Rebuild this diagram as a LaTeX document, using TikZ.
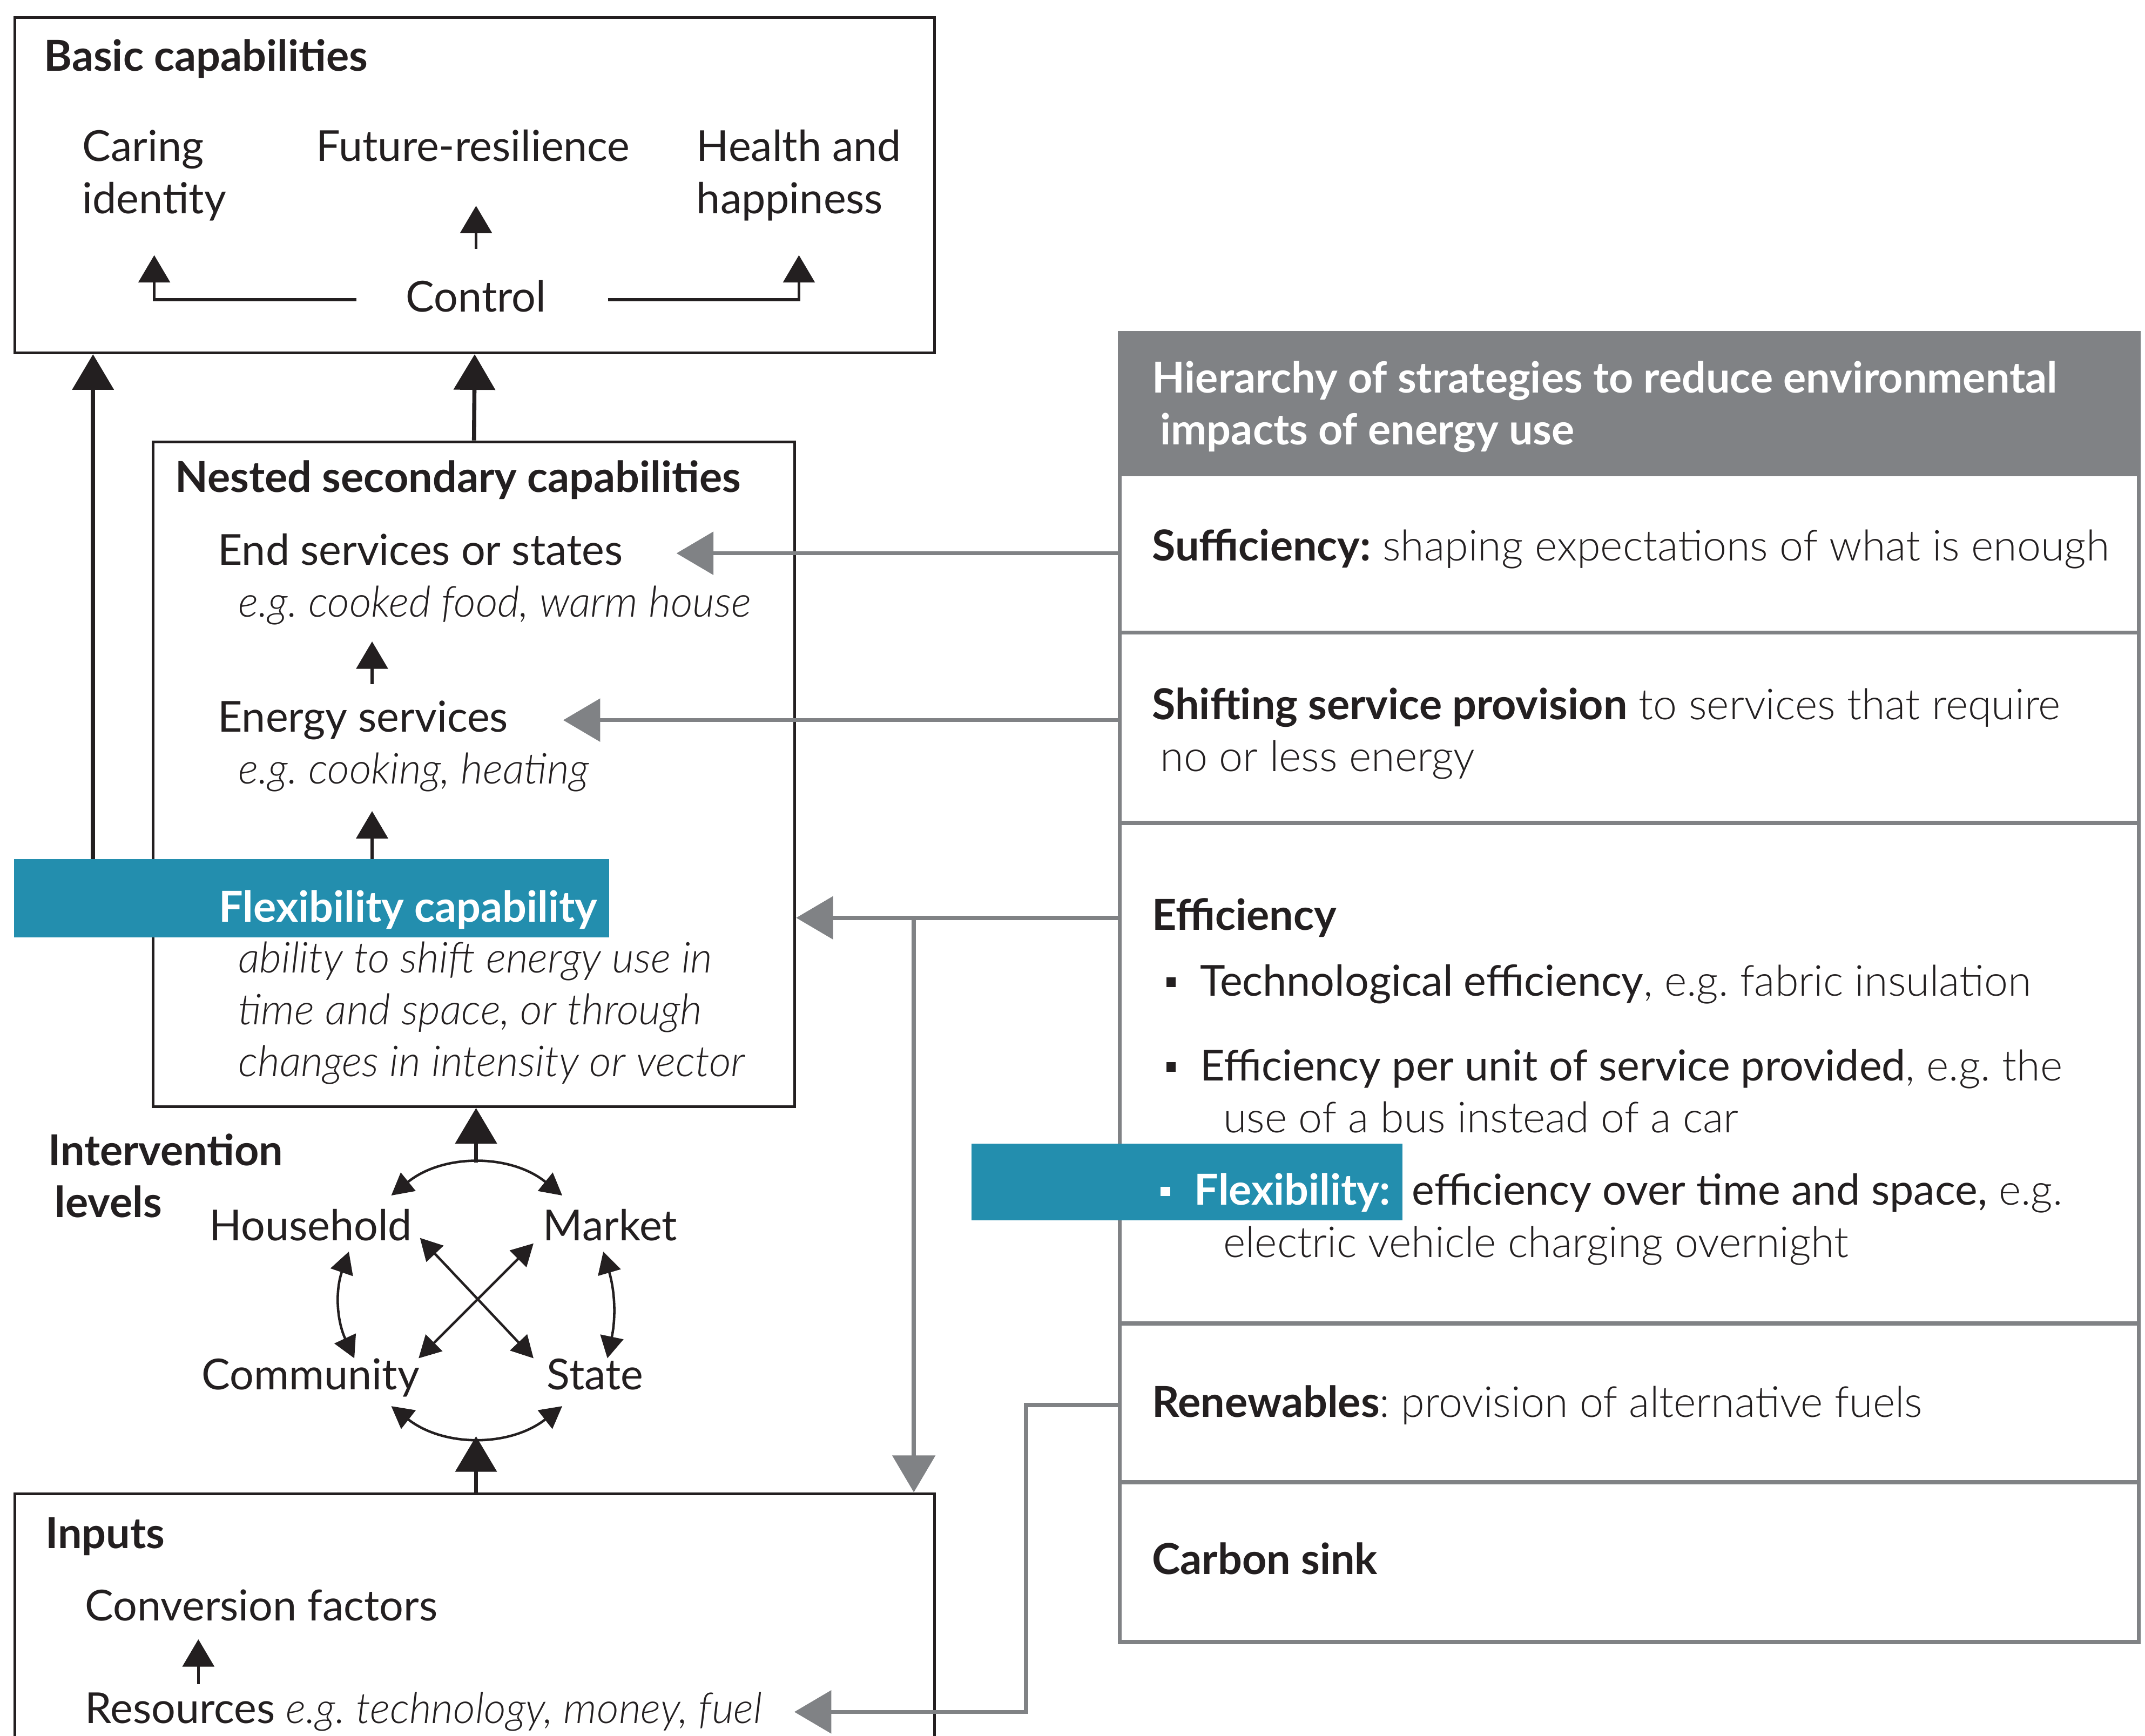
\documentclass[tikz,border=0pt]{standalone}
\usepackage{fontspec}
\setmainfont{Lato}
\newfontfamily\lightfont{Lato Light}
\frenchspacing
\usetikzlibrary{arrows.meta,calc,positioning}
\definecolor{ink}{RGB}{35,31,32}
\definecolor{flexblue}{RGB}{35,142,174}
\definecolor{panelgrey}{RGB}{128,130,133}

\tikzset{
  txt/.style={anchor=base west, inner sep=0pt, text=ink, font=\fontsize{31.2}{38}\selectfont},
  head/.style={txt, font=\fontsize{31.2}{38}\selectfont\bfseries},
  eg/.style={txt, font=\fontsize{31.2}{38}\selectfont\lightfont\itshape},
  lvl/.style={txt, anchor=base},
  box/.style={draw=ink, line width=2pt, anchor=north west, inner sep=0pt},
  row/.style={draw=panelgrey, line width=3pt, anchor=north west, inner sep=0pt, minimum width=745pt},
  flexfill/.style={fill=flexblue, anchor=north west, inner sep=0pt},
  bullet/.style={fill=ink, minimum size=7pt, inner sep=0pt},
  bigarr/.style={draw=ink, line width=3pt, -{Triangle[length=26pt,width=30pt]}},
  smallarr/.style={draw=ink, line width=2.2pt, -{Triangle[length=20pt,width=23pt]}},
  cycarr/.style={draw=ink, line width=1.8pt, {Triangle[length=16pt,width=17pt]}-{Triangle[length=16pt,width=17pt]}},
  greyarr/.style={draw=panelgrey, line width=3pt, -{Triangle[length=27pt,width=31pt]}}
}

\begin{document}
\begin{tikzpicture}[x=1pt,y=-1pt]
\fill[white] (0,0) rectangle (1568,1269);
\clip (0,0) rectangle (1568,1269);

% boxes on the left
\node[box, minimum width=672pt, minimum height=245pt] (basic) at (10,12) {};
\node[box, minimum width=469pt, minimum height=486pt] (nested) at (111,322) {};
\node[box, minimum width=672pt, minimum height=300pt] (inputs) at (10,1091) {};

% basic capabilities
\node[head] (tbasic) at (32,52) {Basic capabilities};
\node[txt, align=left] (caring) at (60,156) {Caring\\identity};
\node[txt] (future) at (231,118) {Future-resilience};
\node[txt, align=left] (health) at (509,156) {Health and\\happiness};
\node[lvl] (ctrl) at (348,228) {Control};
\draw[smallarr, shorten <=23pt, shorten >=32pt] (ctrl.north) -- (ctrl.north |- future.south);
\draw[smallarr, shorten <=36pt, shorten >=25pt] ($(ctrl.base west)+(0,-9)$) -| (caring.south);
\draw[smallarr, shorten <=45pt, shorten >=25pt] ($(ctrl.base east)+(0,-9)$) -| (health.south);

% nested secondary capabilities
\node[head] (tnested) at (128,360) {Nested secondary capabilities};
\node[txt] (endserv) at (159,413) {End services or states};
\node[eg] (endeg) at (174,451) {e.g. cooked food, warm house};
\node[txt] (energy) at (159,535) {Energy services};
\node[eg] (energyeg) at (174,573) {e.g. cooking, heating};
\node[flexfill, minimum width=435pt, minimum height=57pt] (flexbar) at (10,628) {};
\node[head, text=white] (flext) at (160,674) {Flexibility capability};
\node[eg, align=left] (flexdesc) at (174,787) {ability to shift energy use in\\time and space, or through\\changes in intensity or vector};
\coordinate (ax) at (272,0);
\draw[smallarr, shorten <=12pt, shorten >=12pt] (energy.north -| ax) -- (endeg.south -| ax);
\draw[smallarr, shorten >=14pt] (flexbar.north -| ax) -- (energyeg.south -| ax);

\draw[bigarr] (nested.north) -- (basic.south);
\coordinate (lx) at (68,0);
\draw[bigarr] (flexbar.north -| lx) -- (basic.south -| lx);

% intervention levels
\node[head, align=left] (tlevels) at (35,890) {Intervention\\\hspace*{5pt}levels};
\node[lvl] (hh) at (227,907) {Household};
\node[lvl] (mkt) at (446,907) {Market};
\node[lvl] (comm) at (227,1016) {Community};
\node[lvl] (state) at (435,1016) {State};
\draw[cycarr] ($(hh.base)+(80,-2)$) -- ($(state.base)+(-45,-23)$);
\draw[cycarr] ($(mkt.base)+(-56,2)$) -- ($(comm.base)+(79,-23)$);
\draw[cycarr] ($(hh.base)+(28,8)$) to[bend right=22] ($(comm.base)+(32,-23)$);
\draw[cycarr] ($(mkt.base)+(-5,8)$) to[bend left=14] ($(state.base)+(9,-23)$);
\draw[cycarr] ($(hh.base)+(59,-33)$) to[bend left=39] ($(mkt.base)+(-35,-33)$);
\draw[cycarr] ($(comm.base)+(59,12)$) to[bend right=38] ($(state.base)+(-24,12)$);
\coordinate (arcT) at (348,850);
\coordinate (arcB) at (348,1050);
\draw[bigarr] (arcT) -- (arcT |- nested.south);
\draw[bigarr] (arcB |- inputs.north) -- (arcB);

% inputs
\node[head] (tinputs) at (33,1132) {Inputs};
\node[txt] (conv) at (62,1185) {Conversion factors};
\node[txt] (res) at (62,1260) {Resources{\lightfont\itshape\ e.g. technology, money, fuel}};
\coordinate (ix) at (145,0);
\draw[smallarr, shorten <=6pt, shorten >=13pt] (res.north -| ix) -- (conv.south -| ix);

% hierarchy of strategies
\node[row, fill=panelgrey, minimum height=103pt] (rhead) at (817,242) {};
\node[row, minimum height=116pt] (rsuff) at (817,345) {};
\node[row, minimum height=139pt] (rshift) at (817,461) {};
\node[row, minimum height=366pt] (reff) at (817,600) {};
\node[row, minimum height=116pt] (rren) at (817,966) {};
\node[row, minimum height=117pt] (rsink) at (817,1082) {};

\node[head, text=white] (thead) at (842,287) {Hierarchy of strategies to reduce environmental};
\node[head, text=white] (thead2) at (848,325) {impacts of energy use};
\node[txt] (suff) at (842,410) {\textbf{Sufficiency:}{\lightfont\ shaping expectations of what is enough}};
\node[txt] (shift) at (842,526) {\textbf{Shifting service provision}{\lightfont\ to services that require}};
\node[txt] (shift2) at (848,564) {\lightfont no or less energy};
\node[head] (efft) at (842,680) {Efficiency};
\node[bullet] (b1) at (856,718) {};
\node[txt] (tech) at (877,728) {Technological efficiency{\lightfont, e.g. fabric insulation}};
\node[bullet] (b2) at (856,780) {};
\node[txt] (unit) at (877,790) {Efficiency per unit of service provided{\lightfont, e.g. the}};
\node[txt] (unit2) at (894,828) {\lightfont use of a bus instead of a car};
\node[flexfill, minimum width=315pt, minimum height=56pt] (flexrow) at (710,836) {};
\node[bullet, fill=white] (b3) at (852,871) {};
\node[head, text=white] (flexr) at (873,881) {Flexibility:};
\node[txt] (flexr2) at (1032,881) {efficiency over time and space,{\lightfont\ e.g.}};
\node[txt] (flexr3) at (894,919) {\lightfont electric vehicle charging overnight};
\node[txt] (ren) at (842,1036) {\textbf{Renewables}{\lightfont: provision of alternative fuels}};
\node[head] (sink) at (842,1151) {Carbon sink};

% grey links
\draw[greyarr, shorten >=39pt] (rsuff.west) -- (rsuff.west -| endserv.east);
\draw[greyarr, shorten >=40pt] (energy.east -| rshift.west) -- (energy.east);
\draw[greyarr] (efft.west -| reff.west) -- (efft.west -| nested.east);
\coordinate (sx) at (668,0);
\draw[greyarr] (efft.west -| sx) -- (sx |- inputs.north);
\draw[greyarr, shorten >=23pt] (ren.west -| rren.west) -- ++(-67,0) |- (res.east);
\end{tikzpicture}
\end{document}
